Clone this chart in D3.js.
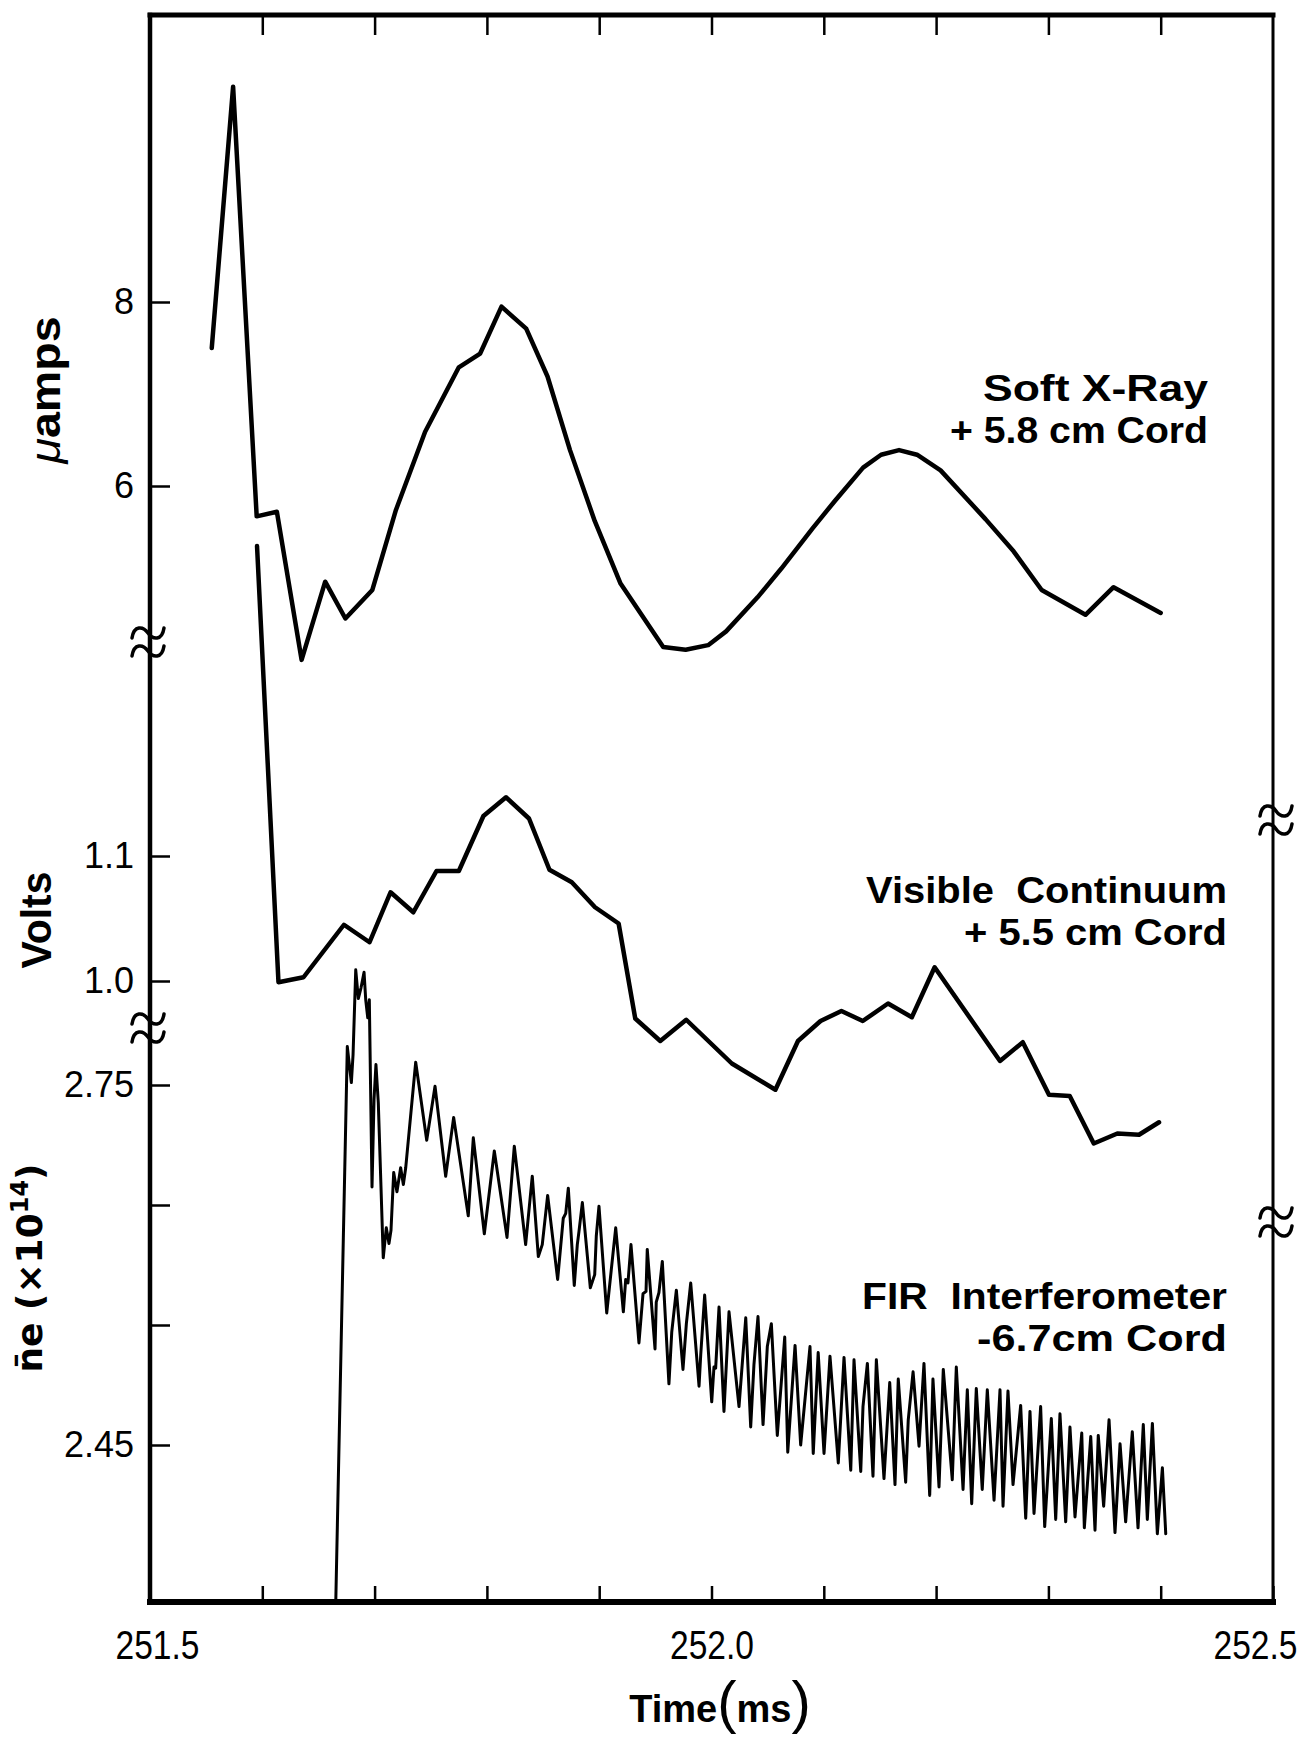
<!DOCTYPE html>
<html>
<head>
<meta charset="utf-8">
<title>Soft X-ray, visible continuum and FIR interferometer traces</title>
<script src="https://cdnjs.cloudflare.com/ajax/libs/d3/7.8.5/d3.min.js"></script>
<style>
	body { margin: 0; background: white; }
	text {
		font-family: "Liberation Sans", Arial, sans-serif;
		fill: black;
	}
	.tick line {
		stroke: black;
		stroke-width: 2.5;
	}
	.frame {
		stroke: black;
		stroke-linecap: square;
	}
	.trace {
		fill: none;
		stroke: black;
		stroke-linejoin: round;
		stroke-linecap: round;
	}
	.brk {
		fill: none;
		stroke: black;
		stroke-width: 3.5;
		stroke-linecap: round;
	}
</style>
</head>
<body>

<svg id="main" width="1313" height="1742"></svg>

<script>

// time axis (ms)
var xTicks = [251.5, 251.6, 251.7, 251.8, 251.9, 252.0, 252.1, 252.2, 252.3, 252.4, 252.5];
var xLabelled = [251.5, 252.0, 252.5];

// left axis ticks for each trace
var sxTicks = [6, 8];
var visTicks = [1.0, 1.1];
var firTicks = [2.45, 2.55, 2.65, 2.75];
var firLabelled = [2.45, 2.75];

// Soft X-Ray, +5.8 cm cord (micro amps)
var sxTime = [251.555, 251.574, 251.595, 251.613, 251.635, 251.656, 251.674, 251.698, 251.719, 251.745,
	251.775, 251.794, 251.813, 251.835, 251.854, 251.874, 251.896, 251.919, 251.957, 251.977,
	251.997, 252.013, 252.041, 252.062, 252.090, 252.110, 252.135, 252.151, 252.167, 252.183,
	252.204, 252.244, 252.269, 252.294, 252.333, 252.358, 252.400];
var sxAmps = [7.50, 10.34, 5.67, 5.72, 4.11, 4.96, 4.56, 4.87, 5.74, 6.59,
	7.29, 7.44, 7.95, 7.71, 7.19, 6.39, 5.62, 4.94, 4.25, 4.22,
	4.27, 4.42, 4.79, 5.10, 5.54, 5.84, 6.20, 6.34, 6.39, 6.34,
	6.17, 5.64, 5.29, 4.87, 4.60, 4.90, 4.62];

// Visible continuum, +5.5 cm cord (volts)
var visTime = [251.5953, 251.6144, 251.6367, 251.6727, 251.6955, 251.7142, 251.7345, 251.7551, 251.7750, 251.7969,
	251.8170, 251.8375, 251.8557, 251.8756, 251.8963, 251.9173, 251.9321, 251.9544, 251.9775, 252.0181,
	252.0569, 252.0770, 252.0971, 252.1157, 252.1347, 252.1572, 252.1784, 252.1987, 252.2569, 252.2772,
	252.3005, 252.3190, 252.3404, 252.3614, 252.3807, 252.3985];
var visVolts = [1.348, 0.999, 1.003, 1.045, 1.031, 1.071, 1.055, 1.088, 1.088, 1.132,
	1.147, 1.130, 1.089, 1.079, 1.059, 1.046, 0.970, 0.952, 0.969, 0.934,
	0.913, 0.952, 0.968, 0.976, 0.968, 0.982, 0.971, 1.011, 0.936, 0.951,
	0.909, 0.908, 0.870, 0.878, 0.877, 0.887];

// FIR interferometer, -6.7 cm cord (line density, x 10^14)
var firTime = [251.665, 251.6757, 251.6793, 251.6808, 251.6832, 251.6855, 251.6879, 251.6906, 251.6921, 251.6939,
	251.6953, 251.6977, 251.6995, 251.7012, 251.7033, 251.7077, 251.7104, 251.7128, 251.7146, 251.7170,
	251.7199, 251.7232, 251.7256, 251.7277, 251.7366, 251.7464, 251.7538, 251.7633, 251.7704, 251.7834,
	251.7879, 251.7977, 251.8066, 251.8179, 251.8244, 251.8345, 251.8404, 251.8458, 251.8493, 251.8541,
	251.8630, 251.8680, 251.8702, 251.8725, 251.8778, 251.8805, 251.8820, 251.8850, 251.8921, 251.8960,
	251.8974, 251.8998, 251.9067, 251.9147, 251.9215, 251.9236, 251.9256, 251.9283, 251.9354, 251.9390,
	251.9417, 251.9428, 251.9497, 251.9508, 251.9532, 251.9562, 251.9621, 251.9646, 251.9687, 251.9746,
	251.9776, 251.9815, 251.9889, 251.9904, 251.9939, 252.0002, 252.0022, 252.0037, 252.0067, 252.0111,
	252.0156, 252.0245, 252.0305, 252.0349, 252.0378, 252.0414, 252.0459, 252.0497, 252.0533, 252.0586,
	252.0652, 252.0679, 252.0744, 252.0794, 252.0877, 252.0906, 252.0950, 252.1002, 252.1055, 252.1129,
	252.1180, 252.1240, 252.1269, 252.1329, 252.1349, 252.1388, 252.1438, 252.1468, 252.1536, 252.1587,
	252.1634, 252.1663, 252.1729, 252.1752, 252.1795, 252.1848, 252.1892, 252.1943, 252.1972, 252.2026,
	252.2064, 252.2144, 252.2180, 252.2240, 252.2278, 252.2317, 252.2358, 252.2411, 252.2456, 252.2516,
	252.2569, 252.2596, 252.2640, 252.2685, 252.2753, 252.2798, 252.2836, 252.2872, 252.2931, 252.2967,
	252.3026, 252.3065, 252.3103, 252.3154, 252.3192, 252.3237, 252.3297, 252.3320, 252.3377, 252.3415,
	252.3444, 252.3492, 252.3540, 252.3593, 252.3638, 252.3688, 252.3747, 252.3798, 252.3845, 252.3881,
	252.3926, 252.3970, 252.4015, 252.4045];
var firNe = [2.300, 2.782, 2.752, 2.775, 2.846, 2.822, 2.831, 2.844, 2.821, 2.806,
	2.821, 2.665, 2.738, 2.767, 2.735, 2.606, 2.631, 2.618, 2.629, 2.677,
	2.661, 2.681, 2.667, 2.681, 2.769, 2.704, 2.749, 2.674, 2.723, 2.641,
	2.706, 2.626, 2.695, 2.623, 2.699, 2.617, 2.674, 2.607, 2.617, 2.658,
	2.588, 2.639, 2.643, 2.664, 2.583, 2.617, 2.628, 2.652, 2.581, 2.592,
	2.624, 2.649, 2.560, 2.631, 2.561, 2.588, 2.585, 2.617, 2.535, 2.576,
	2.578, 2.613, 2.530, 2.569, 2.577, 2.603, 2.501, 2.544, 2.579, 2.513,
	2.551, 2.585, 2.499, 2.525, 2.575, 2.486, 2.515, 2.514, 2.565, 2.478,
	2.561, 2.482, 2.556, 2.465, 2.517, 2.557, 2.467, 2.532, 2.551, 2.458,
	2.540, 2.444, 2.533, 2.450, 2.532, 2.443, 2.527, 2.443, 2.524, 2.435,
	2.523, 2.429, 2.521, 2.428, 2.482, 2.518, 2.424, 2.521, 2.422, 2.502,
	2.417, 2.505, 2.419, 2.471, 2.511, 2.449, 2.518, 2.408, 2.505, 2.415,
	2.513, 2.421, 2.515, 2.413, 2.496, 2.401, 2.497, 2.413, 2.496, 2.404,
	2.496, 2.399, 2.495, 2.417, 2.483, 2.389, 2.478, 2.393, 2.482, 2.382,
	2.472, 2.388, 2.476, 2.386, 2.465, 2.390, 2.460, 2.381, 2.457, 2.379,
	2.458, 2.399, 2.471, 2.377, 2.451, 2.386, 2.461, 2.381, 2.467, 2.388,
	2.468, 2.376, 2.431, 2.376];


var frame = { left: 150, right: 1273, top: 15, bottom: 1602 };

var svg = d3.select('#main');

svg.append('rect').attr('width', 1313).attr('height', 1742).attr('fill', 'white');

var x = d3.scaleLinear().domain([251.5, 252.5]).range([frame.left, frame.right]);

// three stacked vertical scales sharing the same frame
var ySx = d3.scaleLinear().domain([6, 8]).range([486, 302]);
var yVis = d3.scaleLinear().domain([1.0, 1.1]).range([981, 856]);
var yFir = d3.scaleLinear().domain([2.45, 2.75]).range([1445, 1085]);

function inList(list, v) {
	return list.some(function(d) { return Math.abs(d - v) < 1e-6; });
}

svg.append('clipPath').attr('id', 'plotClip')
	.append('rect')
	.attr('x', frame.left).attr('y', frame.top)
	.attr('width', frame.right - frame.left)
	.attr('height', frame.bottom - frame.top);

// traces
var traces = [
	{ t: sxTime, v: sxAmps, y: ySx, w: 4.5 },
	{ t: visTime, v: visVolts, y: yVis, w: 4.5 },
	{ t: firTime, v: firNe, y: yFir, w: 3 }
];

var plot = svg.append('g').attr('clip-path', 'url(#plotClip)');

traces.forEach(function(tr) {
	var line = d3.line()
		.x(function(d) { return x(d[0]); })
		.y(function(d) { return tr.y(d[1]); });
	plot.append('path')
		.attr('class', 'trace')
		.attr('stroke-width', tr.w)
		.attr('d', line(d3.zip(tr.t, tr.v)));
});

// bottom axis with labels
var xAxis = d3.axisBottom(x)
	.tickValues(xTicks)
	.tickSize(-16)
	.tickPadding(29)
	.tickFormat(function(d) { return inList(xLabelled, d) ? d3.format('.1f')(d) : ''; });

var gx = svg.append('g')
	.attr('transform', 'translate(0,' + frame.bottom + ')')
	.call(xAxis);
gx.select('.domain').remove();
gx.attr('font-family', null).attr('font-size', null);
gx.selectAll('text')
	.style('font-size', '40px')
	.filter(function() { return this.textContent !== ''; })
	.attr('textLength', 84)
	.attr('lengthAdjust', 'spacingAndGlyphs')
	.attr('x', function(d) {
		// end labels sit a little inside the frame, as in the original
		if (d === xLabelled[0]) return 7;
		if (d === xLabelled[xLabelled.length - 1]) return -18;
		return 0;
	});

// top ticks only
var gTop = svg.append('g')
	.attr('transform', 'translate(0,' + frame.top + ')')
	.call(d3.axisTop(x).tickValues(xTicks.slice(1, -1)).tickSize(-20).tickFormat(''));
gTop.select('.domain').remove();

// left axes
function leftAxis(scale, ticks, labelled, fmt) {
	var ax = d3.axisLeft(scale)
		.tickValues(ticks)
		.tickSize(-20)
		.tickPadding(16)
		.tickFormat(function(d) {
			if (labelled && !inList(labelled, d)) return '';
			return d3.format(fmt)(d);
		});
	var g = svg.append('g')
		.attr('transform', 'translate(' + frame.left + ',0)')
		.call(ax);
	g.select('.domain').remove();
	g.attr('font-family', null).attr('font-size', null);
	g.selectAll('text').style('font-size', '36px');
	return g;
}

leftAxis(ySx, sxTicks, null, 'd');
leftAxis(yVis, visTicks, null, '.1f');
leftAxis(yFir, firTicks, firLabelled, '.2f');

// frame
svg.append('line').attr('class', 'frame')
	.attr('x1', frame.left).attr('x2', frame.left)
	.attr('y1', frame.top).attr('y2', frame.bottom)
	.attr('stroke-width', 4.5);
svg.append('line').attr('class', 'frame')
	.attr('x1', frame.left).attr('x2', frame.right)
	.attr('y1', frame.top).attr('y2', frame.top)
	.attr('stroke-width', 5);
svg.append('line').attr('class', 'frame')
	.attr('x1', frame.left).attr('x2', frame.right)
	.attr('y1', frame.bottom).attr('y2', frame.bottom)
	.attr('stroke-width', 6);
svg.append('line').attr('class', 'frame')
	.attr('x1', frame.right).attr('x2', frame.right)
	.attr('y1', frame.top).attr('y2', frame.bottom)
	.attr('stroke-width', 3);

// axis break marks
var breaks = [
	{ x: frame.left - 2, y: 642 },
	{ x: frame.left - 2, y: 1028 },
	{ x: frame.right + 3, y: 820 },
	{ x: frame.right + 3, y: 1222 }
];
var tilde = 'M-16,5 C-14,-8 -5,-7 0,0 C5,7 14,8 16,-5';
breaks.forEach(function(b) {
	[-9, 9].forEach(function(off) {
		svg.append('path')
			.attr('class', 'brk')
			.attr('d', tilde)
			.attr('transform', 'translate(' + b.x + ',' + (b.y + off) + ')');
	});
});

// axis titles
svg.append('text')
	.attr('transform', 'translate(60,390) rotate(-90)')
	.attr('text-anchor', 'middle')
	.attr('textLength', 147)
	.attr('lengthAdjust', 'spacingAndGlyphs')
	.style('font-size', '42px')
	.style('font-weight', 'bold')
	.call(function(t) {
		t.append('tspan').style('font-style', 'italic').style('font-weight', 'normal').text('\u03bc');
		t.append('tspan').text('amps');
	});

svg.append('text')
	.attr('transform', 'translate(51,920) rotate(-90)')
	.attr('text-anchor', 'middle')
	.attr('textLength', 97)
	.attr('lengthAdjust', 'spacingAndGlyphs')
	.style('font-size', '42px')
	.style('font-weight', 'bold')
	.text('Volts');

svg.append('text')
	.attr('transform', 'translate(42,1268) rotate(-90)')
	.attr('text-anchor', 'middle')
	.style('font-family', '"DejaVu Sans", sans-serif')
	.style('font-size', '36px')
	.style('font-weight', 'bold')
	.call(function(t) {
		t.append('tspan').text('n\u0304e (\u00d710');
		t.append('tspan').attr('dy', -14).style('font-size', '24px').text('14');
		t.append('tspan').attr('dy', 14).text(')');
	});

var timeLabel = svg.append('text')
	.attr('x', 720).attr('y', 1722)
	.attr('text-anchor', 'middle')
	.style('font-size', '38px')
	.style('font-weight', 'bold');
timeLabel.append('tspan').text('Time');
timeLabel.append('tspan').style('font-weight', 'normal').style('font-size', '58px').text('(');
timeLabel.append('tspan').text('ms');
timeLabel.append('tspan').style('font-weight', 'normal').style('font-size', '58px').text(')');

// trace names
var names = [
	{ text: 'Soft X-Ray', x: 1208, y: 401, len: 225 },
	{ text: '+ 5.8 cm Cord', x: 1208, y: 443, len: 258 },
	{ text: 'Visible  Continuum', x: 1227, y: 903, len: 361 },
	{ text: '+ 5.5 cm Cord', x: 1227, y: 945, len: 263 },
	{ text: 'FIR  Interferometer', x: 1227, y: 1309, len: 365 },
	{ text: '-6.7cm Cord', x: 1227, y: 1351, len: 250 }
];

svg.selectAll('text.name')
	.data(names)
	.enter().append('text')
	.attr('class', 'name')
	.attr('x', function(d) { return d.x; })
	.attr('y', function(d) { return d.y; })
	.attr('text-anchor', 'end')
	.attr('textLength', function(d) { return d.len; })
	.attr('lengthAdjust', 'spacingAndGlyphs')
	.style('font-size', '37px')
	.style('font-weight', 'bold')
	.style('white-space', 'pre')
	.text(function(d) { return d.text; });

</script>
</body>
</html>
